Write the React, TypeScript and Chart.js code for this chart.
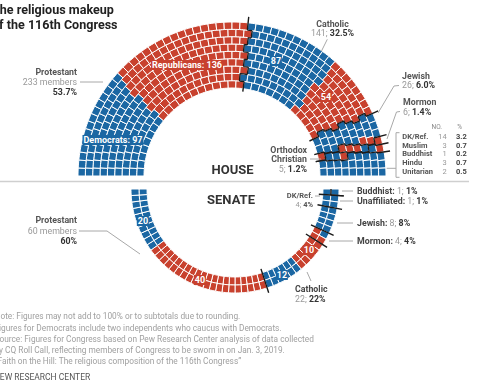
import React, { useEffect, useRef } from "react";
import { Chart, registerables } from "chart.js";
Chart.register(...registerables);

const BLUE = "#1b67a3";
const RED = "#c8412e";
const FONT = "Roboto, 'Noto Sans', sans-serif";

// ---------- DATA ----------
const HOUSE_GROUPS = ["Protestant", "Catholic", "Jewish", "Mormon", "Orthodox Christian", "DK/Ref.", "Muslim", "Buddhist", "Hindu", "Unitarian"];
const HOUSE_DEM = [97, 87, 24, 1, 3, 14, 3, 1, 3, 2];
const HOUSE_REP = [136, 54, 2, 5, 2, 0, 0, 0, 0, 0];
const HOUSE_REP_FIRST = [false, false, false, true, false, false, false, false, false, false];
const HOUSE_PCT = ["53.7", "32.5", "6.0", "1.4", "1.2", "3.2", "0.7", "0.2", "0.7", "0.5"];
const HOUSE_MARKED = [0, 1, 2, 3, 4];

const SENATE_GROUPS = ["Protestant", "Catholic", "Mormon", "Jewish", "DK/Ref.", "Unaffiliated", "Buddhist"];
const SENATE_DEM = [20, 12, 1, 8, 4, 1, 1];
const SENATE_REP = [40, 10, 3, 0, 0, 0, 0];
const SENATE_REP_FIRST = [false, false, true, false, false, false, false];
const SENATE_PCT = ["60", "22", "4", "8", "4", "1", "1"];
const SENATE_MARKED = [0, 1, 2, 3, 4, 5];

// ---------- LAYOUT ----------
const HOUSE_ROWS = 9;
const SENATE_ROWS = 2;

type Seat = { row: number; idx: number; frac: number; group: number; party: "D" | "R" };

function rowCounts(total: number, rows: number, rIn: number, rOut: number, equal: boolean): number[] {
  if (equal) {
    const base = Math.floor(total / rows);
    const c = new Array(rows).fill(base);
    let rem = total - base * rows;
    for (let i = rows - 1; rem > 0; i--, rem--) c[i]++;
    return c;
  }
  const radii = Array.from({ length: rows }, (_, i) => rIn + ((i + 0.5) * (rOut - rIn)) / rows);
  const sum = radii.reduce((a, b) => a + b, 0);
  const raw = radii.map((r) => (total * r) / sum);
  const counts = raw.map((v) => Math.floor(v));
  const rem = total - counts.reduce((a, b) => a + b, 0);
  const order = raw.map((v, i) => ({ i, f: v - Math.floor(v) })).sort((a, b) => b.f - a.f);
  for (let k = 0; k < rem; k++) counts[order[k].i]++;
  return counts;
}

function layout(dem: number[], rep: number[], repFirst: boolean[], counts: number[]): Seat[][] {
  const seq: { group: number; party: "D" | "R" }[] = [];
  dem.forEach((d, g) => {
    const parts: ["D" | "R", number][] = repFirst[g] ? [["R", rep[g]], ["D", d]] : [["D", d], ["R", rep[g]]];
    parts.forEach(([p, n]) => {
      for (let k = 0; k < n; k++) seq.push({ group: g, party: p });
    });
  });
  const seats: Seat[] = [];
  counts.forEach((n, row) => {
    for (let j = 0; j < n; j++) seats.push({ row, idx: j, frac: (j + 0.5) / n, group: 0, party: "D" });
  });
  seats.sort((a, b) => a.frac - b.frac || a.row - b.row);
  seats.forEach((s, k) => {
    s.group = seq[k].group;
    s.party = seq[k].party;
  });
  const rowsData: Seat[][] = counts.map((n) => new Array(n));
  seats.forEach((s) => (rowsData[s.row][s.idx] = s));
  return rowsData;
}

function boundaryPlugin(rowsData: Seat[][], marked: number[], reverse: boolean, extOut: number, extIn: number) {
  return {
    id: "bounds",
    afterDatasetsDraw(chart: any) {
      const ctx = chart.ctx as CanvasRenderingContext2D;
      const N = rowsData.length;
      const geo = rowsData.map((_, row) => {
        const a = chart.getDatasetMeta(N - 1 - row).data[0];
        const p = a.getProps(["x", "y", "innerRadius", "outerRadius"], true);
        return { x: p.x, y: p.y, rIn: p.innerRadius, rOut: p.outerRadius };
      });
      const toAngle = (f: number) => (reverse ? Math.PI - f * Math.PI : -Math.PI + f * Math.PI);
      ctx.save();
      ctx.strokeStyle = "#1a1a1a";
      ctx.lineWidth = 1.4;
      ctx.lineCap = "butt";
      marked.forEach((G) => {
        const fr = rowsData.map((seats) => seats.filter((s) => s.group <= G).length / seats.length);
        ctx.beginPath();
        for (let i = 0; i < N; i++) {
          const a = toAngle(fr[i]);
          const { x, y, rIn, rOut } = geo[i];
          const edge = fr[i] <= 0 || fr[i] >= 1;
          if (!edge) {
            const r0 = i === 0 ? rIn - extIn : rIn;
            const r1 = i === N - 1 ? rOut + extOut : rOut;
            ctx.moveTo(x + r0 * Math.cos(a), y + r0 * Math.sin(a));
            ctx.lineTo(x + r1 * Math.cos(a), y + r1 * Math.sin(a));
          }
          if (i < N - 1 && fr[i] !== fr[i + 1]) {
            const a2 = toAngle(fr[i + 1]);
            ctx.moveTo(x + rOut * Math.cos(a), y + rOut * Math.sin(a));
            ctx.arc(x, y, rOut, a, a2, a2 < a);
          }
        }
        ctx.stroke();
      });
      ctx.restore();
    },
  };
}

const LEADERS: number[][][] = [
  [[80, 82], [103, 82]],
  [[327.3, 39.3], [321.5, 51]],
  [[399, 85.5], [394, 86], [378, 113]],
  [[400, 111.5], [396.5, 112], [387, 139]],
  [[310, 159], [321, 159]],
  [[386.7, 168.3], [396, 168.3]],
  [[399.5, 132.7], [396, 132.7], [396, 177.3], [399.5, 177.3]],
  [[79, 231], [107, 231], [140, 254]],
  [[315, 196], [320, 196]],
  [[342, 191], [353, 191]],
  [[340, 201], [353, 201]],
  [[337, 223], [353, 223]],
  [[329, 241], [353, 241]],
  [[307, 272], [311, 281]],
];

const annotationPlugin = {
  id: "annot",
  afterDraw(chart: any) {
    const ctx = chart.ctx as CanvasRenderingContext2D;
    ctx.save();
    ctx.strokeStyle = "#cfcfcf";
    ctx.lineWidth = 1.5;
    ctx.beginPath();
    ctx.moveTo(0, 181.5);
    ctx.lineTo(469, 181.5);
    ctx.stroke();
    ctx.strokeStyle = "#a8a8a8";
    ctx.lineWidth = 1;
    LEADERS.forEach((pl) => {
      ctx.beginPath();
      pl.forEach(([x, y], i) => (i ? ctx.lineTo(x, y) : ctx.moveTo(x, y)));
      ctx.stroke();
    });
    ctx.restore();
  },
};

function makeConfig(rowsData: Seat[][], reverse: boolean, opts: any, plugins: any[]) {
  const max = Math.max(...rowsData.map((r) => r.length));
  return {
    type: "doughnut" as const,
    data: {
      labels: new Array(max).fill(""),
      datasets: rowsData
        .slice()
        .reverse()
        .map((seats) => {
          const s = reverse ? seats.slice().reverse() : seats;
          return {
            data: s.map(() => 1),
            backgroundColor: s.map((x) => (x.party === "D" ? BLUE : RED)),
            borderColor: "#ffffff",
            borderWidth: 1,
            hoverOffset: 0,
          };
        }),
    },
    options: {
      animation: false as const,
      responsive: true,
      maintainAspectRatio: false,
      events: [],
      plugins: { legend: { display: false }, tooltip: { enabled: false } },
      ...opts,
    },
    plugins,
  };
}

function Txt(props: { x: number; y: number; align?: "left" | "right" | "center"; size?: number; color?: string; weight?: number; ls?: number; sx?: number; bg?: string; children: any }) {
  const { x, y, align = "left", size = 8.8, color = "#555", weight = 400, ls = 0, sx, bg, children } = props;
  const tx = align === "left" ? "0" : align === "right" ? "-100%" : "-50%";
  return (
    <div
      style={{
        position: "absolute",
        left: x,
        top: y,
        transform: `translate(${tx}, -50%)${sx ? ` scaleX(${sx})` : ""}`,
        transformOrigin: "left center",
        fontSize: size,
        lineHeight: 1,
        fontWeight: weight,
        color,
        whiteSpace: "nowrap",
        fontFamily: FONT,
        textAlign: align,
        letterSpacing: ls,
        background: bg,
        padding: bg ? "0.5px 1px" : undefined,
      }}
    >
      {children}
    </div>
  );
}

const B = (p: { c?: string; children: any }) => <span style={{ fontWeight: 700, color: p.c || "#333" }}>{p.children}</span>;
const G = (p: { children: any }) => <span style={{ fontWeight: 400, color: "#999" }}>{p.children}</span>;

export default function App() {
  const houseRef = useRef<HTMLCanvasElement>(null);
  const senateRef = useRef<HTMLCanvasElement>(null);

  useEffect(() => {
    const houseTotal = HOUSE_DEM.reduce((a, b) => a + b, 0) + HOUSE_REP.reduce((a, b) => a + b, 0);
    const senateTotal = SENATE_DEM.reduce((a, b) => a + b, 0) + SENATE_REP.reduce((a, b) => a + b, 0);
    const houseRows = layout(HOUSE_DEM, HOUSE_REP, HOUSE_REP_FIRST, rowCounts(houseTotal, HOUSE_ROWS, 88, 154, false));
    const senateRows = layout(SENATE_DEM, SENATE_REP, SENATE_REP_FIRST, rowCounts(senateTotal, SENATE_ROWS, 88, 104, true));

    const h = new Chart(
      houseRef.current!,
      makeConfig(
        houseRows,
        false,
        { rotation: -90, circumference: 180, radius: 154, cutout: "57.14%", layout: { padding: { left: 0, right: 16, top: 0, bottom: 186 } } },
        [boundaryPlugin(houseRows, HOUSE_MARKED, false, 6, 3), annotationPlugin]
      ) as any
    );
    const s = new Chart(
      senateRef.current!,
      makeConfig(
        senateRows,
        true,
        { rotation: 90, circumference: 180, radius: 104, cutout: "84.6%", layout: { padding: { left: 0, right: 10, top: 98, bottom: 0 } } },
        [boundaryPlugin(senateRows, SENATE_MARKED, true, 5, 4)]
      ) as any
    );
    return () => {
      h.destroy();
      s.destroy();
    };
  }, []);

  const box: React.CSSProperties = { position: "absolute", left: 0, top: 0, width: 480, height: 384 };
  const W = "#ffffff";

  return (
    <div style={{ ...box, overflow: "hidden", background: "#fff" }}>
      <div style={box}>
        <canvas ref={houseRef} />
      </div>
      <div style={box}>
        <canvas ref={senateRef} />
      </div>
      <div style={{ ...box, pointerEvents: "none" }}>
        <Txt x={-8} y={9.5} size={13.5} weight={700} color="#222" sx={0.93}>The religious makeup</Txt>
        <Txt x={-8} y={24.5} size={13.5} weight={700} color="#222" sx={0.93}>of the 116th Congress</Txt>

        {/* House labels */}
        <Txt x={77} y={71.7} align="right" weight={700}>{HOUSE_GROUPS[0]}</Txt>
        <Txt x={77} y={82} align="right" color="#999">{HOUSE_DEM[0] + HOUSE_REP[0]} members</Txt>
        <Txt x={77} y={91.7} align="right" weight={700} color="#333">{HOUSE_PCT[0]}%</Txt>

        <Txt x={332.5} y={23.7} align="center" weight={700}>{HOUSE_GROUPS[1]}</Txt>
        <Txt x={332.5} y={33} align="center"><G>{HOUSE_DEM[1] + HOUSE_REP[1]};</G> <B>{HOUSE_PCT[1]}%</B></Txt>

        <Txt x={402} y={76} weight={700}>{HOUSE_GROUPS[2]}</Txt>
        <Txt x={402} y={85.3}><G>{HOUSE_DEM[2] + HOUSE_REP[2]};</G> <B>{HOUSE_PCT[2]}%</B></Txt>

        <Txt x={403} y={102} weight={700}>{HOUSE_GROUPS[3]}</Txt>
        <Txt x={403} y={112}><G>{HOUSE_DEM[3] + HOUSE_REP[3]};</G> <B>{HOUSE_PCT[3]}%</B></Txt>

        <Txt x={307} y={149.5} align="right" weight={700}>Orthodox</Txt>
        <Txt x={307} y={159} align="right" weight={700}>Christian</Txt>
        <Txt x={307} y={168.5} align="right"><G>{HOUSE_DEM[4] + HOUSE_REP[4]};</G> <B>{HOUSE_PCT[4]}%</B></Txt>

        <Txt x={442} y={126.5} align="right" size={6.5} color="#888">NO.</Txt>
        <Txt x={462} y={126.5} align="right" size={6.5} color="#888">%</Txt>
        {[5, 6, 7, 8, 9].map((g, k) => (
          <React.Fragment key={g}>
            <Txt x={402.3} y={137 + k * 8.7} size={7.5} weight={700}>{HOUSE_GROUPS[g]}</Txt>
            <Txt x={446.7} y={137 + k * 8.7} size={7.5} align="right" color="#999">{HOUSE_DEM[g] + HOUSE_REP[g]}</Txt>
            <Txt x={466.7} y={137 + k * 8.7} size={7.5} align="right" weight={700} color="#444">{HOUSE_PCT[g]}</Txt>
          </React.Fragment>
        ))}

        <Txt x={232.5} y={168.5} align="center" size={13} weight={700} color="#333">HOUSE</Txt>
        <Txt x={231} y={198.5} align="center" size={13} weight={700} color="#333">SENATE</Txt>

        {/* in-chart labels */}
        <Txt x={187} y={65} align="center" size={9} weight={700} color={W} bg={RED}>Republicans: {HOUSE_REP[0]}</Txt>
        <Txt x={113} y={140} align="center" size={9} weight={700} color={W} bg={BLUE}>Democrats: {HOUSE_DEM[0]}</Txt>
        <Txt x={276} y={61} align="center" size={9} weight={700} color={W} bg={BLUE}>{HOUSE_DEM[1]}</Txt>
        <Txt x={326} y={97} align="center" size={9} weight={700} color={W} bg={RED}>{HOUSE_REP[1]}</Txt>
        <Txt x={143} y={221} align="center" size={9} weight={700} color={W} bg={BLUE}>{SENATE_DEM[0]}</Txt>
        <Txt x={200} y={280} align="center" size={9} weight={700} color={W} bg={RED}>{SENATE_REP[0]}</Txt>
        <Txt x={282} y={275} align="center" size={9} weight={700} color={W} bg={BLUE}>{SENATE_DEM[1]}</Txt>
        <Txt x={309} y={250} align="center" size={9} weight={700} color={W} bg={RED}>{SENATE_REP[1]}</Txt>

        {/* Senate labels */}
        <Txt x={77} y={220} align="right" weight={700}>{SENATE_GROUPS[0]}</Txt>
        <Txt x={77} y={231} align="right" color="#999">{SENATE_DEM[0] + SENATE_REP[0]} members</Txt>
        <Txt x={77} y={241} align="right" weight={700} color="#333">{SENATE_PCT[0]}%</Txt>

        <Txt x={313} y={196} align="right" size={7.5} weight={700}>{SENATE_GROUPS[4]}</Txt>
        <Txt x={313} y={205} align="right" size={7.5}><G>{SENATE_DEM[4] + SENATE_REP[4]};</G> <B c="#555">{SENATE_PCT[4]}%</B></Txt>

        {[6, 5, 3, 2].map((g, k) => (
          <Txt key={g} x={357} y={[191, 201, 223, 241][k]}>
            <B c="#444">{SENATE_GROUPS[g]}:</B> <G>{SENATE_DEM[g] + SENATE_REP[g]};</G> <B>{SENATE_PCT[g]}%</B>
          </Txt>
        ))}

        <Txt x={295} y={288.5} weight={700} color="#444">{SENATE_GROUPS[1]}</Txt>
        <Txt x={295} y={299}><G>{SENATE_DEM[1] + SENATE_REP[1]};</G> <B>{SENATE_PCT[1]}%</B></Txt>

        {/* footer */}
        <Txt x={-5.5} y={316} size={8.3} color="#a0a0a0">Note: Figures may not add to 100% or to subtotals due to rounding.</Txt>
        <Txt x={-5.5} y={327.5} size={8.3} color="#a0a0a0">Figures for Democrats include two independents who caucus with Democrats.</Txt>
        <Txt x={-5.5} y={339} size={8.3} color="#a0a0a0">Source: Figures for Congress based on Pew Research Center analysis of data collected</Txt>
        <Txt x={-5.5} y={350} size={8.3} color="#a0a0a0">by CQ Roll Call, reflecting members of Congress to be sworn in on Jan. 3, 2019.</Txt>
        <Txt x={-5.5} y={361} size={8.3} color="#a0a0a0">“Faith on the Hill: The religious composition of the 116th Congress”</Txt>
        <Txt x={-5.5} y={377} size={8.5} color="#555">PEW RESEARCH CENTER</Txt>
      </div>
    </div>
  );
}
